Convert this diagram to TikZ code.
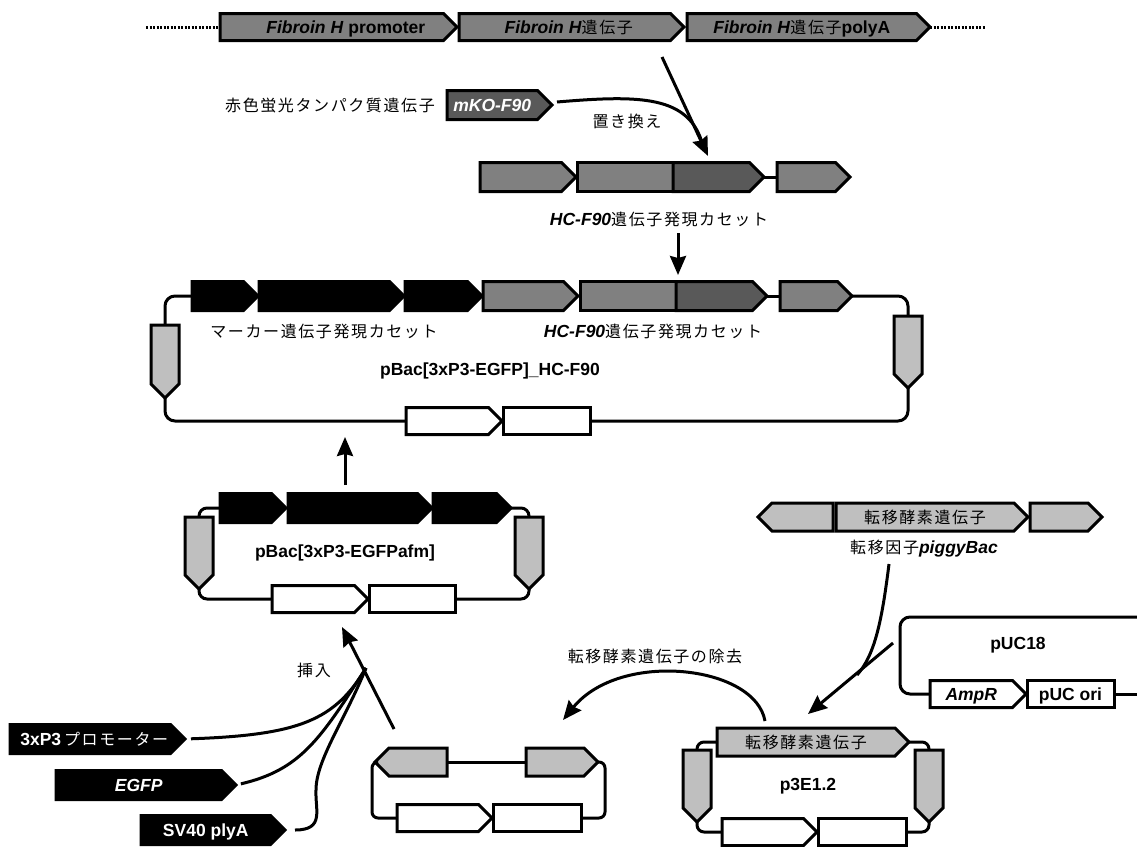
\documentclass[tikz,border=0pt]{standalone}
\usepackage{fontspec}
\setmainfont{Liberation Sans}
\newfontfamily\jpfont[LetterSpace=10]{Noto Sans CJK JP}
\usetikzlibrary{arrows.meta}
\usetikzlibrary{shapes.symbols}
\definecolor{genegray}{gray}{0.5}
\definecolor{darkgray}{gray}{0.35}
\definecolor{markgray}{gray}{0.75}
\newcommand{\jp}[1]{{\fontsize{16}{18}\jpfont\mdseries\upshape #1}}

\begin{document}
\begin{tikzpicture}
  [
    x=1pt, y=-1pt,
    >={Stealth[length=19pt,width=16pt,inset=2pt]},
    every node/.style={font=\fontsize{17.5}{20}\selectfont\bfseries},
    gene/.style = {draw, line width=3pt, signal, signal to=east, signal pointer angle=90, inner sep=0pt, anchor=west, outer sep=0pt, text height=12pt, text depth=0pt},
    block/.style = {draw, line width=3pt, rectangle, inner sep=0pt, anchor=west, outer sep=0pt, text height=12pt, text depth=0pt},
    toprow/.style = {gene, fill=genegray, minimum height=27pt},
    casrow/.style = {gene, fill=genegray, minimum height=29pt},
    blackrow/.style = {gene, fill=black, minimum height=29pt, text=white},
    whitebox/.style = {fill=white, minimum height=27pt},
    lte/.style = {gene, fill=markgray, signal to=south, anchor=north, minimum width=28pt},
    wire/.style = {line width=3pt, rounded corners=10pt},
    flow/.style = {line width=3pt},
    caption/.style = {inner sep=0pt},
  ]

  \useasboundingbox (0,0) rectangle (1137,846);

  % the genomic locus
  \node (promoter) at (220,27) [toprow, minimum width=237pt] {\hspace*{28pt}\textit{Fibroin H} promoter};
  \node (hgene) at (459,27) [toprow, minimum width=225pt] {\hspace*{8pt}\textit{Fibroin H}\jp{遺伝子}};
  \node (polya) at (687,27) [toprow, minimum width=243pt] {\textit{Fibroin H}\jp{遺伝子}polyA};
  \coordinate (dotsleft) at (146,27);
  \coordinate (dotsright) at (985,27);
  \draw[line width=3pt, dash pattern=on 2pt off 1.5pt] (dotsleft) -- (promoter.west);
  \draw[line width=3pt, dash pattern=on 2pt off 1.5pt] (polya.east) -- (dotsright);

  % the replacement
  \node (redlabel) at (330,106) [caption] {\jp{赤色蛍光タンパク質遺伝子}};
  \node (mko) at (447,105) [casrow, fill=darkgray, text=white, minimum width=105pt] {\textit{mKO-F90}};
  \node (replace) at (627,121) [caption] {\jp{置き換え}};
  \coordinate (locusend) at (662,57);
  \coordinate (castip) at (708,156);
  \coordinate (mkostart) at (557,102);
  \draw[flow, ->] (locusend) -- (castip);
  \draw[flow] (mkostart) .. controls (640,95) and (690,95) .. (703,146);

  % the cassette
  \node (casa) at (480,177) [casrow, minimum width=96pt] {};
  \node (casb) at (577,177) [block, fill=genegray, minimum width=96pt, minimum height=29pt] {};
  \node (casc) at (673,177) [casrow, fill=darkgray, minimum width=91pt] {};
  \node (casd) at (777,177) [casrow, minimum width=73pt] {};
  \draw[flow] (casc.east) -- (casd.west);
  \node (caslabel) at (659,219) [caption] {\textit{HC-F90}\jp{遺伝子発現カセット}};
  \coordinate (cassink) at (678,275);
  \coordinate (cassource) at (678,233);
  \draw[flow, ->] (cassource) -- (cassink);

  % the large plasmid
  \node (blacka) at (192,296) [blackrow, minimum width=66pt] {};
  \node (blackb) at (259,296) [blackrow, minimum width=145pt] {};
  \node (blackc) at (405,296) [blackrow, minimum width=77pt] {};
  \node (graya) at (483,296) [casrow, minimum width=95pt] {};
  \node (grayb) at (580,296) [block, fill=genegray, minimum width=96pt, minimum height=29pt] {};
  \node (grayc) at (676,296) [casrow, fill=darkgray, minimum width=91pt] {};
  \node (grayd) at (780,296) [casrow, minimum width=72pt] {};
  \draw[flow] (grayc.east) -- (grayd.west);
  \node (markerlabel) at (324,331) [caption] {\jp{マーカー遺伝子発現カセット}};
  \node (hclabel) at (653,331) [caption] {\textit{HC-F90}\jp{遺伝子発現カセット}};
  \node (bigname) at (490,371) [caption] {pBac[3xP3-EGFP]\_HC-F90};
  \node (bigleft) at (165,325) [lte, minimum height=59pt] {};
  \node (bigright) at (908,316) [lte, minimum height=58pt] {};
  \node (bigwa) at (406,421) [block, signal, signal to=east, signal pointer angle=90, whitebox, minimum width=96pt] {};
  \node (bigwb) at (503,421) [block, whitebox, minimum width=87pt] {};
  \draw[wire] (bigleft.north) |- (blacka.west);
  \draw[wire] (grayd.east) -| (bigright.north);
  \draw[wire] (bigleft.south) |- (bigwa.west);
  \draw[wire] (bigwb.east) -| (bigright.south);
  \coordinate (bigsource) at (345,485);
  \coordinate (bigsink) at (345,437);
  \draw[flow, ->] (bigsource) -- (bigsink);

  % the small plasmid
  \node (smalla) at (220,508) [blackrow, minimum width=66pt] {};
  \node (smallb) at (288,508) [blackrow, minimum width=144pt] {};
  \node (smallc) at (433,508) [blackrow, minimum width=78pt] {};
  \node (smallname) at (345,553) [caption] {pBac[3xP3-EGFPafm]};
  \node (smallleft) at (199,517) [lte, minimum height=58pt] {};
  \node (smallright) at (529,517) [lte, minimum height=58pt] {};
  \node (smallwa) at (272,599) [block, signal, signal to=east, signal pointer angle=90, whitebox, minimum width=96pt] {};
  \node (smallwb) at (369,599) [block, whitebox, minimum width=86pt] {};
  \draw[wire, rounded corners=8pt] (smallleft.north) |- (smalla.west);
  \draw[wire, rounded corners=8pt] (smallc.east) -| (smallright.north);
  \draw[wire, rounded corners=8pt] (smallleft.south) |- (smallwa.west);
  \draw[wire, rounded corners=8pt] (smallwb.east) -| (smallright.south);

  % the inserted pieces
  \node (insert) at (314,670) [caption] {\jp{挿入}};
  \node (promo) at (10,739) [blackrow, minimum width=175pt] {\hspace*{8pt}3xP3\,\jp{プロモーター}};
  \node (egfp) at (56,785) [blackrow, minimum width=180pt] {\textit{EGFP}};
  \node (svpoly) at (141,830) [blackrow, minimum width=144pt] {SV40 plyA};
  \coordinate (inserttail) at (394,729);
  \coordinate (inserttip) at (342,627);
  \coordinate (joint) at (366,668);
  \draw[flow, ->] (inserttail) -- (inserttip);
  \draw[flow, shorten <=6pt] (promo.east) .. controls (300,735) and (335,720) .. (joint);
  \draw[flow, shorten <=5pt] (egfp.east) .. controls (300,770) and (320,740) .. (joint);
  \draw[flow, shorten <=10pt] (svpoly.east) .. controls (325,830) and (315,810) .. (316,790) .. controls (316,760) and (345,720) .. (joint);

  % the plasmid without transposase
  \node (cuta) at (598,762) [gene, fill=markgray, anchor=east, minimum width=72pt, minimum height=28pt] {};
  \node (cutl) at (447,762) [gene, fill=markgray, anchor=east, signal to=west, minimum width=72pt, minimum height=28pt] {};
  \node (cutwa) at (397,818) [block, signal, signal to=east, signal pointer angle=90, whitebox, minimum width=95pt] {};
  \node (cutwb) at (493,818) [block, whitebox, minimum width=88pt] {};
  \coordinate (cutleftout) at (372,818);
  \coordinate (cutrightout) at (605,818);
  \draw[flow] (cutl.east) -- (cuta.west);
  \draw[wire, rounded corners=6pt] (cutl.west) -| (cutleftout) -- (cutwa.west);
  \draw[wire, rounded corners=6pt] (cuta.east) -| (cutrightout) -- (cutwb.east);

  % the removal
  \node (removal) at (655,656) [caption] {\jp{転移酵素遺伝子の除去}};
  \coordinate (removalstart) at (765,721);
  \coordinate (removalend) at (563,720);
  \draw[flow, ->] (removalstart) .. controls (755,665) and (620,650) .. (removalend);

  % the transposon
  \node (pbl) at (833,517) [gene, fill=markgray, anchor=east, signal to=west, minimum width=75pt, minimum height=28pt] {};
  \node (pbm) at (836,517) [gene, fill=markgray, minimum width=192pt, minimum height=28pt] {\jp{転移酵素遺伝子}};
  \node (pbr) at (1030,517) [gene, fill=markgray, minimum width=72pt, minimum height=28pt] {};
  \node (pblabel) at (924,549) [caption] {\jp{転移因子}\textit{piggyBac}};

  % pUC18
  \node (pucname) at (1018,645) [caption] {pUC18};
  \node (amp) at (930,694) [block, signal, signal to=east, signal pointer angle=90, whitebox, minimum width=96pt] {\textit{AmpR}};
  \node (ori) at (1027,694) [block, whitebox, minimum width=87pt] {pUC ori};
  \coordinate (puctop) at (1137,617);
  \coordinate (pucend) at (1137,694);
  \coordinate (puccorner) at (900,694);
  \draw[wire] (puctop) -| (puccorner) -- (amp.west);
  \draw[flow] (ori.east) -- (pucend);

  % p3E1.2
  \node (tpase) at (717,742) [gene, fill=markgray, minimum width=192pt, minimum height=28pt] {\jp{転移酵素遺伝子}};
  \node (pname) at (808,786) [caption] {p3E1.2};
  \node (pleft) at (697,750) [lte, minimum height=58pt] {};
  \node (pright) at (929,750) [lte, minimum height=58pt] {};
  \node (pwa) at (722,832) [block, signal, signal to=east, signal pointer angle=90, whitebox, minimum width=95pt] {};
  \node (pwb) at (818,832) [block, whitebox, minimum width=88pt] {};
  \draw[wire, rounded corners=7pt] (pleft.north) |- (tpase.west);
  \draw[wire, rounded corners=7pt] (tpase.east) -| (pright.north);
  \draw[wire, rounded corners=7pt] (pleft.south) |- (pwa.west);
  \draw[wire, rounded corners=7pt] (pwb.east) -| (pright.south);
  \coordinate (piggyend) at (857,675);
  \coordinate (piggystart) at (889,564);
  \coordinate (pucsource) at (893,643);
  \coordinate (ptip) at (808,714);
  \draw[flow] (piggystart) .. controls (882,620) and (875,655) .. (piggyend);
  \draw[flow, ->] (pucsource) -- (ptip);

\end{tikzpicture}
\end{document}
